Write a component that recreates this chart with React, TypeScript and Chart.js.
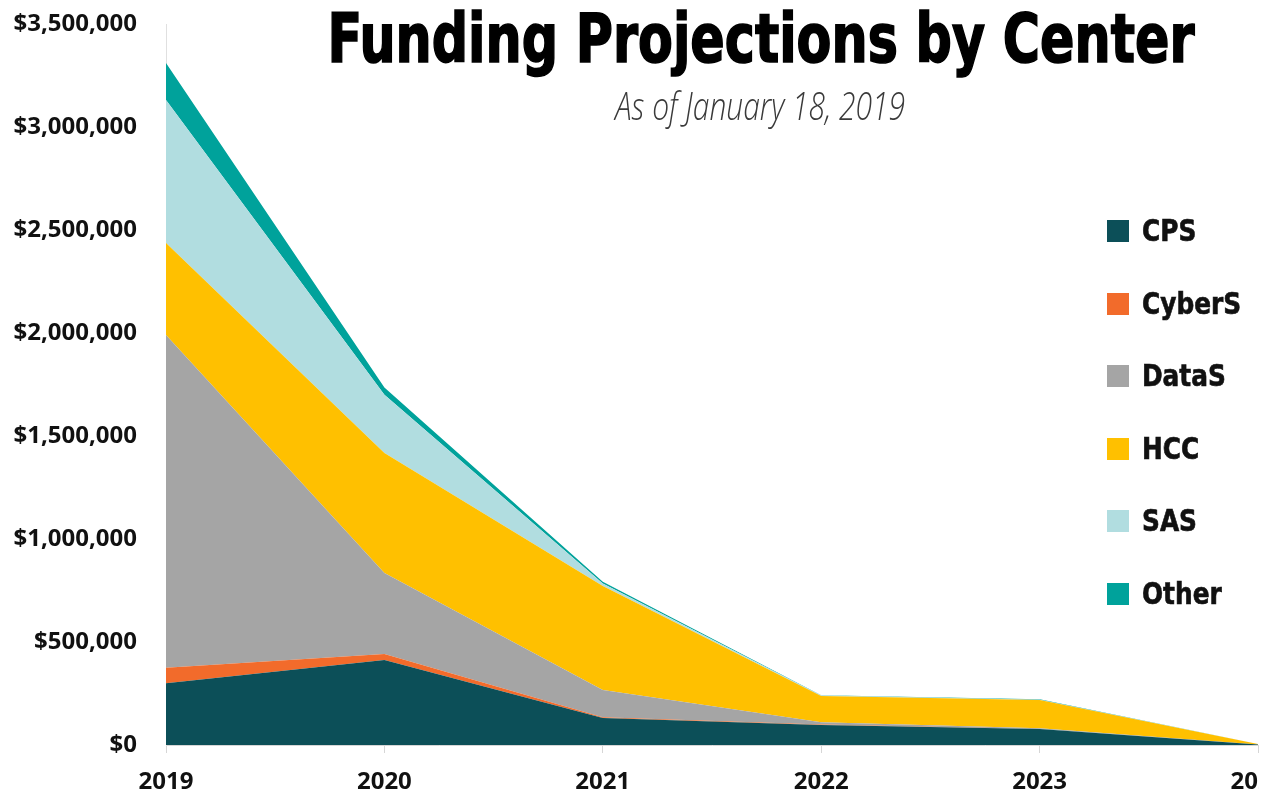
import React, { useEffect, useLayoutEffect, useRef } from 'react';
import { Chart, registerables } from 'chart.js';

Chart.register(...registerables);

// ---- data ----
const years = ['2019', '2020', '2021', '2022', '2023', '2024'];
const seriesNames = ['CPS', 'CyberS', 'DataS', 'HCC', 'SAS', 'Other'];
const seriesColors = ['#0c4f58', '#f26b2b', '#a5a5a5', '#ffc000', '#b1dde0', '#00a29b'];
const cps = [300000, 413000, 131000, 97000, 78000, 2000];
const cyberS = [75000, 29000, 4000, 2000, 0, 0];
const dataS = [1615000, 393000, 132000, 12000, 3000, 0];
const hcc = [447000, 582000, 505000, 127000, 137000, 3000];
const sas = [694000, 283000, 12000, 2000, 2000, 0];
const other = [180000, 35000, 8000, 1000, 2000, 0];
const yMin = 0;
const yMax = 3500000;
const yStep = 500000;

const titleText = 'Funding Projections by Center';
const subtitleText = 'As of January 18, 2019';

const seriesValues = [cps, cyberS, dataS, hcc, sas, other];

function FitText(props: { text: string; width: number; style: React.CSSProperties; left: number; top: number }) {
  const ref = useRef<HTMLSpanElement | null>(null);
  useLayoutEffect(() => {
    const el = ref.current;
    if (!el) return;
    el.style.transform = 'translateX(-50%)';
    const w = el.getBoundingClientRect().width;
    const s = w > 0 ? props.width / w : 1;
    el.style.transform = `translateX(-50%) scaleX(${s})`;
  }, [props.text, props.width]);
  return (
    <span
      ref={ref}
      style={{
        position: 'absolute',
        left: props.left,
        top: props.top,
        whiteSpace: 'nowrap',
        transformOrigin: '50% 50%',
        ...props.style,
      }}
    >
      {props.text}
    </span>
  );
}

export default function App() {
  const canvasRef = useRef<HTMLCanvasElement | null>(null);

  useEffect(() => {
    if (!canvasRef.current) return;
    const chart = new Chart(canvasRef.current, {
      type: 'line',
      data: {
        labels: years,
        datasets: seriesNames.map((name, i) => ({
          label: name,
          data: seriesValues[i],
          backgroundColor: seriesColors[i],
          borderColor: seriesColors[i],
          borderWidth: 0,
          pointRadius: 0,
          pointHoverRadius: 0,
          fill: i === 0 ? 'origin' : '-1',
          tension: 0,
        })),
      },
      options: {
        animation: false,
        responsive: true,
        maintainAspectRatio: false,
        layout: { padding: { left: 0, right: 12, top: 24, bottom: 0 } },
        plugins: {
          legend: { display: false },
          tooltip: { enabled: false },
          title: { display: false },
        },
        scales: {
          x: {
            offset: false,
            afterFit: (scale: any) => {
              scale.height = 49;
              scale.paddingLeft = 0;
              scale.paddingRight = 0;
            },
            grid: { drawOnChartArea: false, drawTicks: true, tickLength: 8, color: '#d6d6d6' },
            border: { display: true, color: '#d6d6d6' },
            ticks: {
              padding: 15,
              color: '#111',
              maxRotation: 0,
              autoSkip: false,
              font: { family: 'Open Sans', weight: 'bold', size: 24 },
            },
          },
          y: {
            stacked: true,
            min: yMin,
            max: yMax,
            afterFit: (scale: any) => {
              scale.width = 166;
              scale.paddingTop = 0;
              scale.paddingBottom = 0;
            },
            grid: { display: false, drawTicks: false },
            border: { display: true, color: '#e0e0e0' },
            ticks: {
              stepSize: yStep,
              padding: 29,
              color: '#111',
              font: { family: 'Open Sans', weight: 'bold', size: 24 },
              callback: (v: any) => '$' + Number(v).toLocaleString('en-US'),
            },
          },
        },
      },
    });
    return () => chart.destroy();
  }, []);

  const legendTop = 231;
  const legendGap = 72.6;

  return (
    <div style={{ position: 'fixed', left: 0, top: 0, width: 1270, height: 794, overflow: 'hidden', background: '#fff' }}>
      <div style={{ position: 'absolute', left: 0, top: 0, width: 1259, height: 794, overflow: 'hidden' }}>
        <div style={{ position: 'absolute', left: 0, top: 0, width: 1270, height: 794 }}>
          <canvas ref={canvasRef} />
        </div>
      </div>
      <FitText
        text={titleText}
        width={867}
        left={761}
        top={5}
        style={{
          fontFamily: '"DejaVu Sans Condensed", "DejaVu Sans", sans-serif',
          fontWeight: 'bold',
          fontSize: 68,
          lineHeight: 1,
          color: '#000',
          WebkitTextStroke: '1.6px #000',
        }}
      />
      <FitText
        text={subtitleText}
        width={290}
        left={760}
        top={86}
        style={{
          fontFamily: '"Open Sans", sans-serif',
          fontStyle: 'italic',
          fontWeight: 300,
          fontSize: 38,
          lineHeight: 1,
          color: '#3a3a3a',
        }}
      />
      {seriesNames.map((name, i) => (
        <div
          key={name}
          style={{
            position: 'absolute',
            left: 1107,
            top: legendTop + i * legendGap - 15,
            height: 30,
            display: 'flex',
            alignItems: 'center',
          }}
        >
          <div style={{ width: 22, height: 22, background: seriesColors[i], marginRight: 13 }} />
          <span
            style={{
              fontFamily: '"DejaVu Sans Condensed", "DejaVu Sans", sans-serif',
              fontWeight: 'bold',
              fontSize: 30,
              lineHeight: '30px',
              color: '#111',
              display: 'inline-block',
              transform: 'scaleX(0.92)',
              transformOrigin: '0 50%',
              WebkitTextStroke: '0.6px #111',
            }}
          >
            {name}
          </span>
        </div>
      ))}
    </div>
  );
}
